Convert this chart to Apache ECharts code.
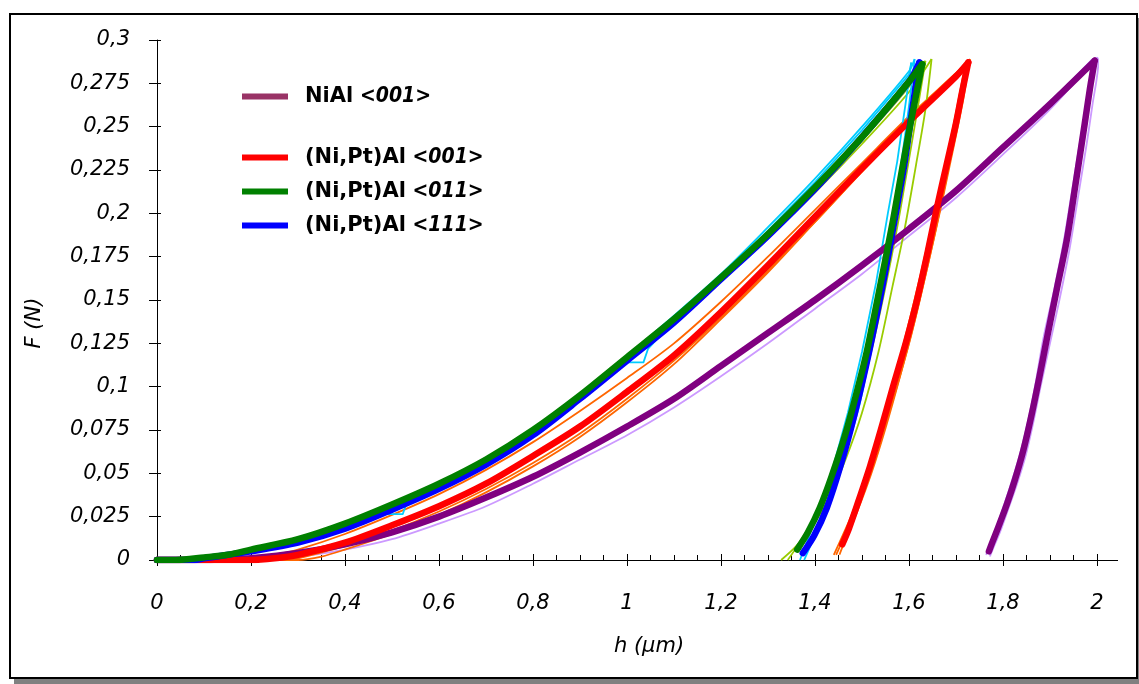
<!DOCTYPE html>
<html><head><meta charset="utf-8">
<script src="https://cdn.jsdelivr.net/npm/echarts@6/dist/echarts.min.js"></script>
<style>
html,body{margin:0;padding:0;background:#fff;}
#frame{position:absolute;left:9px;top:13px;width:1125px;height:662px;border:2px solid #000;box-shadow:5px 5px 0 #808080;background:#fff;}
#chart{position:absolute;left:0;top:0;width:1139px;height:684px;}
</style></head><body>
<div id="frame"></div><div id="chart"></div>
<script>
// ---- tick labels ----
const xTickLabels = ['0','0,2','0,4','0,6','0,8','1','1,2','1,4','1,6','1,8','2'];
const yTickLabels = ['0','0,025','0,05','0,075','0,1','0,125','0,15','0,175','0,2','0,225','0,25','0,275','0,3'];
const legendTop = ['NiAl <001>'];
const legendBottom = ['(Ni,Pt)Al <001>','(Ni,Pt)Al <011>','(Ni,Pt)Al <111>'];

// ---- NiAl <001> (thick purple) + replicates (lavender) ----
const niAlMain = [[0,0],[0.1,0],[0.15,0.0005],[0.2,0.001],[0.3,0.004],[0.4,0.009],[0.5,0.016],[0.6,0.025],[0.7,0.036],[0.8,0.048],[0.9,0.062],[1.0,0.077],[1.1,0.093],[1.2,0.112],[1.3,0.131],[1.4,0.15],[1.5,0.17],[1.6,0.191],[1.7,0.213],[1.8,0.238],[1.9,0.263],[1.995,0.288],
  [1.985,0.272],[1.974,0.252],[1.955,0.218],[1.936,0.185],[1.915,0.157],[1.895,0.13],[1.877,0.105],[1.861,0.084],[1.843,0.063],[1.825,0.046],[1.808,0.032],[1.79,0.019],[1.777,0.01],[1.77,0.005]];
const niAlRep1 = [[0,0],[0.15,0],[0.2,0.0005],[0.3,0.002],[0.4,0.006],[0.5,0.012],[0.6,0.021],[0.7,0.031],[0.8,0.044],[0.9,0.058],[1.0,0.072],[1.1,0.088],[1.2,0.106],[1.3,0.125],[1.4,0.145],[1.5,0.165],[1.6,0.187],[1.7,0.209],[1.8,0.234],[1.9,0.26],[2.0,0.29],
  [2.003,0.288],[1.99,0.262],[1.978,0.24],[1.96,0.21],[1.942,0.18],[1.92,0.15],[1.9,0.125],[1.88,0.1],[1.865,0.08],[1.848,0.06],[1.83,0.044],[1.812,0.03],[1.795,0.017],[1.778,0.006],[1.772,0.002]];
const niAlRep2 = [[0,0],[0.15,0.0005],[0.2,0.0015],[0.3,0.0045],[0.4,0.0095],[0.5,0.017],[0.6,0.026],[0.7,0.037],[0.8,0.049],[0.9,0.063],[1.0,0.078],[1.1,0.094],[1.2,0.113],[1.3,0.132],[1.4,0.151],[1.5,0.171],[1.6,0.192],[1.7,0.214],[1.8,0.239],[1.9,0.264],[1.99,0.289],
  [1.978,0.262],[1.966,0.245],[1.948,0.215],[1.93,0.185],[1.908,0.155],[1.886,0.128],[1.868,0.1],[1.853,0.08],[1.835,0.06],[1.817,0.044],[1.8,0.03],[1.783,0.016],[1.77,0.007],[1.764,0.003]];

// ---- (Ni,Pt)Al <001> (thick red) + replicates (orange) ----
const ptAl001Main = [[0,0],[0.2,0],[0.25,0.001],[0.3,0.003],[0.4,0.01],[0.5,0.02],[0.6,0.031],[0.7,0.044],[0.8,0.06],[0.9,0.077],[1.0,0.097],[1.1,0.118],[1.2,0.143],[1.3,0.17],[1.4,0.198],[1.5,0.226],[1.6,0.253],[1.7,0.279],[1.726,0.287],
  [1.713,0.27],[1.7,0.252],[1.68,0.228],[1.66,0.204],[1.64,0.178],[1.617,0.15],[1.595,0.127],[1.566,0.1],[1.54,0.075],[1.517,0.054],[1.49,0.032],[1.472,0.018],[1.458,0.009]];
const ptAl001Rep1 = [[0,0],[0.15,0],[0.2,0.001],[0.25,0.003],[0.3,0.006],[0.4,0.015],[0.5,0.026],[0.6,0.038],[0.7,0.052],[0.8,0.068],[0.9,0.086],[1.0,0.105],[1.1,0.125],[1.2,0.149],[1.3,0.175],[1.4,0.202],[1.5,0.229],[1.6,0.256],[1.7,0.281],[1.73,0.289],
  [1.705,0.255],[1.672,0.21],[1.64,0.17],[1.605,0.13],[1.572,0.098],[1.54,0.07],[1.51,0.046],[1.485,0.028],[1.46,0.012],[1.445,0.003]];
const ptAl001Rep2 = [[0,0],[0.28,0],[0.3,0.001],[0.4,0.008],[0.5,0.017],[0.6,0.028],[0.7,0.041],[0.8,0.056],[0.9,0.073],[1.0,0.093],[1.1,0.115],[1.2,0.14],[1.3,0.167],[1.4,0.195],[1.5,0.224],[1.6,0.252],[1.7,0.279],[1.728,0.288],
  [1.715,0.265],[1.69,0.232],[1.665,0.2],[1.64,0.17],[1.612,0.138],[1.58,0.105],[1.55,0.076],[1.52,0.05],[1.49,0.028],[1.465,0.012],[1.452,0.003]];
const ptAl001Rep3 = [[0,0],[0.3,0],[0.35,0.002],[0.4,0.006],[0.5,0.015],[0.6,0.026],[0.7,0.039],[0.8,0.054],[0.9,0.071],[1.0,0.091],[1.1,0.113],[1.2,0.139],[1.3,0.166],[1.4,0.195],[1.5,0.224],[1.6,0.252],[1.7,0.279],[1.72,0.286],
  [1.7,0.258],[1.675,0.225],[1.65,0.195],[1.625,0.165],[1.598,0.135],[1.565,0.1],[1.535,0.072],[1.505,0.047],[1.478,0.026],[1.452,0.01],[1.44,0.003]];

// ---- (Ni,Pt)Al <011> (thick green) + replicates (yellow-green) ----
const ptAl011Main = [[0,0],[0.04,0],[0.1,0.0015],[0.15,0.003],[0.2,0.006],[0.3,0.012],[0.4,0.021],[0.5,0.032],[0.6,0.044],[0.7,0.058],[0.8,0.075],[0.9,0.095],[1.0,0.117],[1.1,0.139],[1.2,0.163],[1.3,0.188],[1.4,0.215],[1.5,0.244],[1.6,0.276],[1.628,0.286],
  [1.615,0.268],[1.602,0.25],[1.585,0.225],[1.566,0.196],[1.54,0.16],[1.51,0.12],[1.49,0.098],[1.465,0.073],[1.435,0.048],[1.41,0.03],[1.385,0.016],[1.362,0.006]];
const ptAl011Rep1 = [[0,0],[0.05,0],[0.1,0.002],[0.2,0.0065],[0.3,0.013],[0.4,0.022],[0.5,0.033],[0.6,0.045],[0.7,0.059],[0.8,0.076],[0.9,0.096],[1.0,0.117],[1.1,0.139],[1.2,0.162],[1.3,0.186],[1.4,0.212],[1.5,0.24],[1.6,0.27],[1.648,0.289],
  [1.635,0.26],[1.615,0.228],[1.59,0.19],[1.565,0.158],[1.535,0.12],[1.5,0.085],[1.465,0.058],[1.43,0.036],[1.395,0.02],[1.36,0.008],[1.328,0]];
const ptAl011Rep2 = [[0,0],[0.06,0],[0.1,0.0015],[0.2,0.006],[0.3,0.0125],[0.4,0.0215],[0.5,0.0325],[0.6,0.0445],[0.7,0.0585],[0.8,0.0755],[0.9,0.0955],[1.0,0.1165],[1.1,0.1385],[1.2,0.162],[1.3,0.187],[1.4,0.213],[1.5,0.242],[1.6,0.273],[1.635,0.288],
  [1.618,0.26],[1.598,0.228],[1.575,0.192],[1.548,0.155],[1.515,0.115],[1.485,0.085],[1.455,0.06],[1.42,0.036],[1.385,0.018],[1.36,0.007],[1.342,0]];

// ---- (Ni,Pt)Al <111> (thick blue) + replicates (cyan) ----
const ptAl111Main = [[0,0],[0.08,0],[0.1,0.001],[0.2,0.005],[0.3,0.01],[0.4,0.018],[0.5,0.029],[0.6,0.041],[0.7,0.055],[0.8,0.072],[0.9,0.093],[1.0,0.115],[1.1,0.137],[1.2,0.162],[1.3,0.187],[1.4,0.214],[1.5,0.244],[1.6,0.276],[1.622,0.287],
  [1.608,0.262],[1.59,0.228],[1.57,0.197],[1.545,0.16],[1.515,0.12],[1.485,0.085],[1.455,0.055],[1.425,0.03],[1.398,0.014],[1.374,0.004]];
const ptAl111Rep1 = [[0,0],[0.08,0],[0.1,0.001],[0.2,0.005],[0.3,0.011],[0.4,0.019],[0.5,0.03],[0.6,0.043],[0.7,0.058],[0.8,0.076],[0.9,0.096],[1.0,0.118],[1.1,0.141],[1.2,0.165],[1.3,0.192],[1.4,0.22],[1.5,0.25],[1.6,0.282],[1.612,0.289],
  [1.6,0.262],[1.585,0.232],[1.57,0.205],[1.55,0.17],[1.525,0.13],[1.495,0.09],[1.465,0.062],[1.435,0.038],[1.41,0.02],[1.39,0.008],[1.377,0]];
const ptAl111Rep2 = [[0,0],[0.09,0],[0.1,0.001],[0.2,0.005],[0.3,0.01],[0.4,0.019],[0.48,0.0265],[0.523,0.0265],[0.53,0.032],[0.6,0.042],[0.7,0.057],[0.8,0.075],[0.9,0.095],[1.0,0.114],[1.035,0.114],[1.045,0.122],[1.1,0.138],[1.2,0.163],[1.3,0.19],[1.4,0.218],[1.5,0.248],[1.6,0.28],[1.605,0.287],
  [1.592,0.262],[1.575,0.23],[1.555,0.2],[1.53,0.16],[1.5,0.12],[1.47,0.085],[1.44,0.055],[1.41,0.03],[1.385,0.012],[1.368,0]];

const FONT = 'DejaVu Sans';
// split a loading/unloading curve at its maximum force so each branch is smoothed on its own
function branches(data) {
  let k = 0;
  data.forEach((p, i) => { if (p[1] > data[k][1]) k = i; });
  return [data.slice(0, k + 1), data.slice(k)];
}
function thin(name, data, color, glitchy) {
  return branches(data).map(d => ({name, type:'line', data:d, showSymbol:false, silent:true, z:2,
    smooth: glitchy ? 0 : 0.3,
    lineStyle:{color, width:1.8, join:'round'}, itemStyle:{color}}));
}
function thick(name, data, color, z) {
  return branches(data).map(d => ({name, type:'line', data:d, showSymbol:false, silent:true, z,
    smooth: 0.3,
    lineStyle:{color, width:6.5, cap:'round', join:'round'}, itemStyle:{color}}));
}
const series = [].concat(
  thin('rNi1', niAlRep1, '#cc99ff'), thin('rNi2', niAlRep2, '#cc99ff'),
  thin('r001a', ptAl001Rep1, '#ff6600'), thin('r001b', ptAl001Rep2, '#ff6600'), thin('r001c', ptAl001Rep3, '#ff6600'),
  thin('r011a', ptAl011Rep1, '#99cc00'), thin('r011b', ptAl011Rep2, '#99cc00'),
  thin('r111a', ptAl111Rep1, '#00ccff'), thin('r111b', ptAl111Rep2, '#00ccff', true),
  thick(legendTop[0], niAlMain, '#800080', 5),
  thick(legendBottom[0], ptAl001Main, '#ff0000', 6),
  thick(legendBottom[2], ptAl111Main, '#0000ff', 7),
  thick(legendBottom[1], ptAl011Main, '#008000', 8)
);

function legendFmt(name) {
  const i = name.indexOf(' <');
  return '{n|' + name.slice(0, i) + '}{s| }{i|' + name.slice(i + 1) + '}';
}
const legendText = {
  rich: {
    n: {fontFamily: FONT, fontWeight: 'bold', fontSize: 21, color: '#000', lineHeight: 24, padding:[0,0,0,12]},
    s: {fontFamily: FONT, fontSize: 21, lineHeight: 24},
    i: {fontFamily: 'DejaVu Sans Condensed', fontWeight: 'bold', fontStyle: 'italic', fontSize: 21, color: '#000', lineHeight: 24}
  }
};

const chart = echarts.init(document.getElementById('chart'), null, {renderer:'canvas'});
const axisLbl = {fontFamily: FONT, fontStyle: 'italic', fontSize: 21, color: '#000'};
chart.setOption({
  animation: false,
  backgroundColor: 'transparent',
  grid: {left: 157, right: 42, top: 40, bottom: 124, containLabel: false},
  legend: [
    {data: [{name: legendTop[0], itemStyle: {color: '#993366'}}], left: 242, top: 86, orient: 'vertical',
     itemWidth: 46, itemHeight: 6, icon: 'rect', padding: 0, selectedMode: false, formatter: legendFmt, textStyle: legendText},
    {data: legendBottom.map(n => ({name: n})), left: 242, top: 147, orient: 'vertical',
     itemWidth: 46, itemHeight: 6, itemGap: 13, icon: 'rect', padding: 0, selectedMode: false, formatter: legendFmt, textStyle: legendText}
  ],
  xAxis: [
    {type: 'value', min: 0, max: 2, interval: 0.2,
     axisLine: {show: true, lineStyle: {color: '#000', width: 1}},
     axisTick: {show: true, length: 6, lineStyle: {color: '#000'}},
     axisLabel: Object.assign({margin: 33, formatter: v => xTickLabels[Math.round(v / 0.2)]}, axisLbl),
     splitLine: {show: false}},
    {type: 'value', min: 0, max: 2, interval: 0.2, position: 'bottom',
     axisLine: {show: false}, axisLabel: {show: false}, splitLine: {show: false},
     axisTick: {show: true, inside: true, length: 6, lineStyle: {color: '#000'}},
     minorTick: {show: true, splitNumber: 4, length: 5, lineStyle: {color: '#000'}}}
  ],
  yAxis: [
    {type: 'value', min: 0, max: 0.3, interval: 0.025,
     axisLine: {show: true, lineStyle: {color: '#000', width: 1}},
     axisTick: {show: true, length: 8, lineStyle: {color: '#000'}},
     axisLabel: Object.assign({margin: 27, formatter: v => yTickLabels[Math.round(v / 0.025)]}, axisLbl),
     splitLine: {show: false}},
    {type: 'value', min: 0, max: 0.3, interval: 0.025, position: 'left',
     axisLine: {show: false}, axisLabel: {show: false}, splitLine: {show: false},
     axisTick: {show: true, inside: true, length: 4, lineStyle: {color: '#000'}}}
  ],
  graphic: [
    {type: 'text', x: 35, y: 323, rotation: Math.PI / 2,
     style: {text: 'F (N)', fontFamily: FONT, fontStyle: 'italic', fontSize: 21, fill: '#000', align: 'center', verticalAlign: 'middle'}},
    {type: 'text', x: 649, y: 647,
     style: {text: 'h (µm)', fontFamily: FONT, fontStyle: 'italic', fontSize: 21, fill: '#000', align: 'center', verticalAlign: 'middle'}}
  ],
  series
});
// extend the x axis line a little beyond its last tick, as in the original
const px2 = chart.convertToPixel({xAxisIndex: 0}, 2);
const py0 = chart.convertToPixel({yAxisIndex: 0}, 0);
chart.setOption({graphic: [{}, {}, {type: 'line', silent: true,
  shape: {x1: px2, y1: Math.round(py0) + 0.5, x2: px2 + 21, y2: Math.round(py0) + 0.5},
  style: {stroke: '#000', lineWidth: 1}}]});
</script></body></html>
